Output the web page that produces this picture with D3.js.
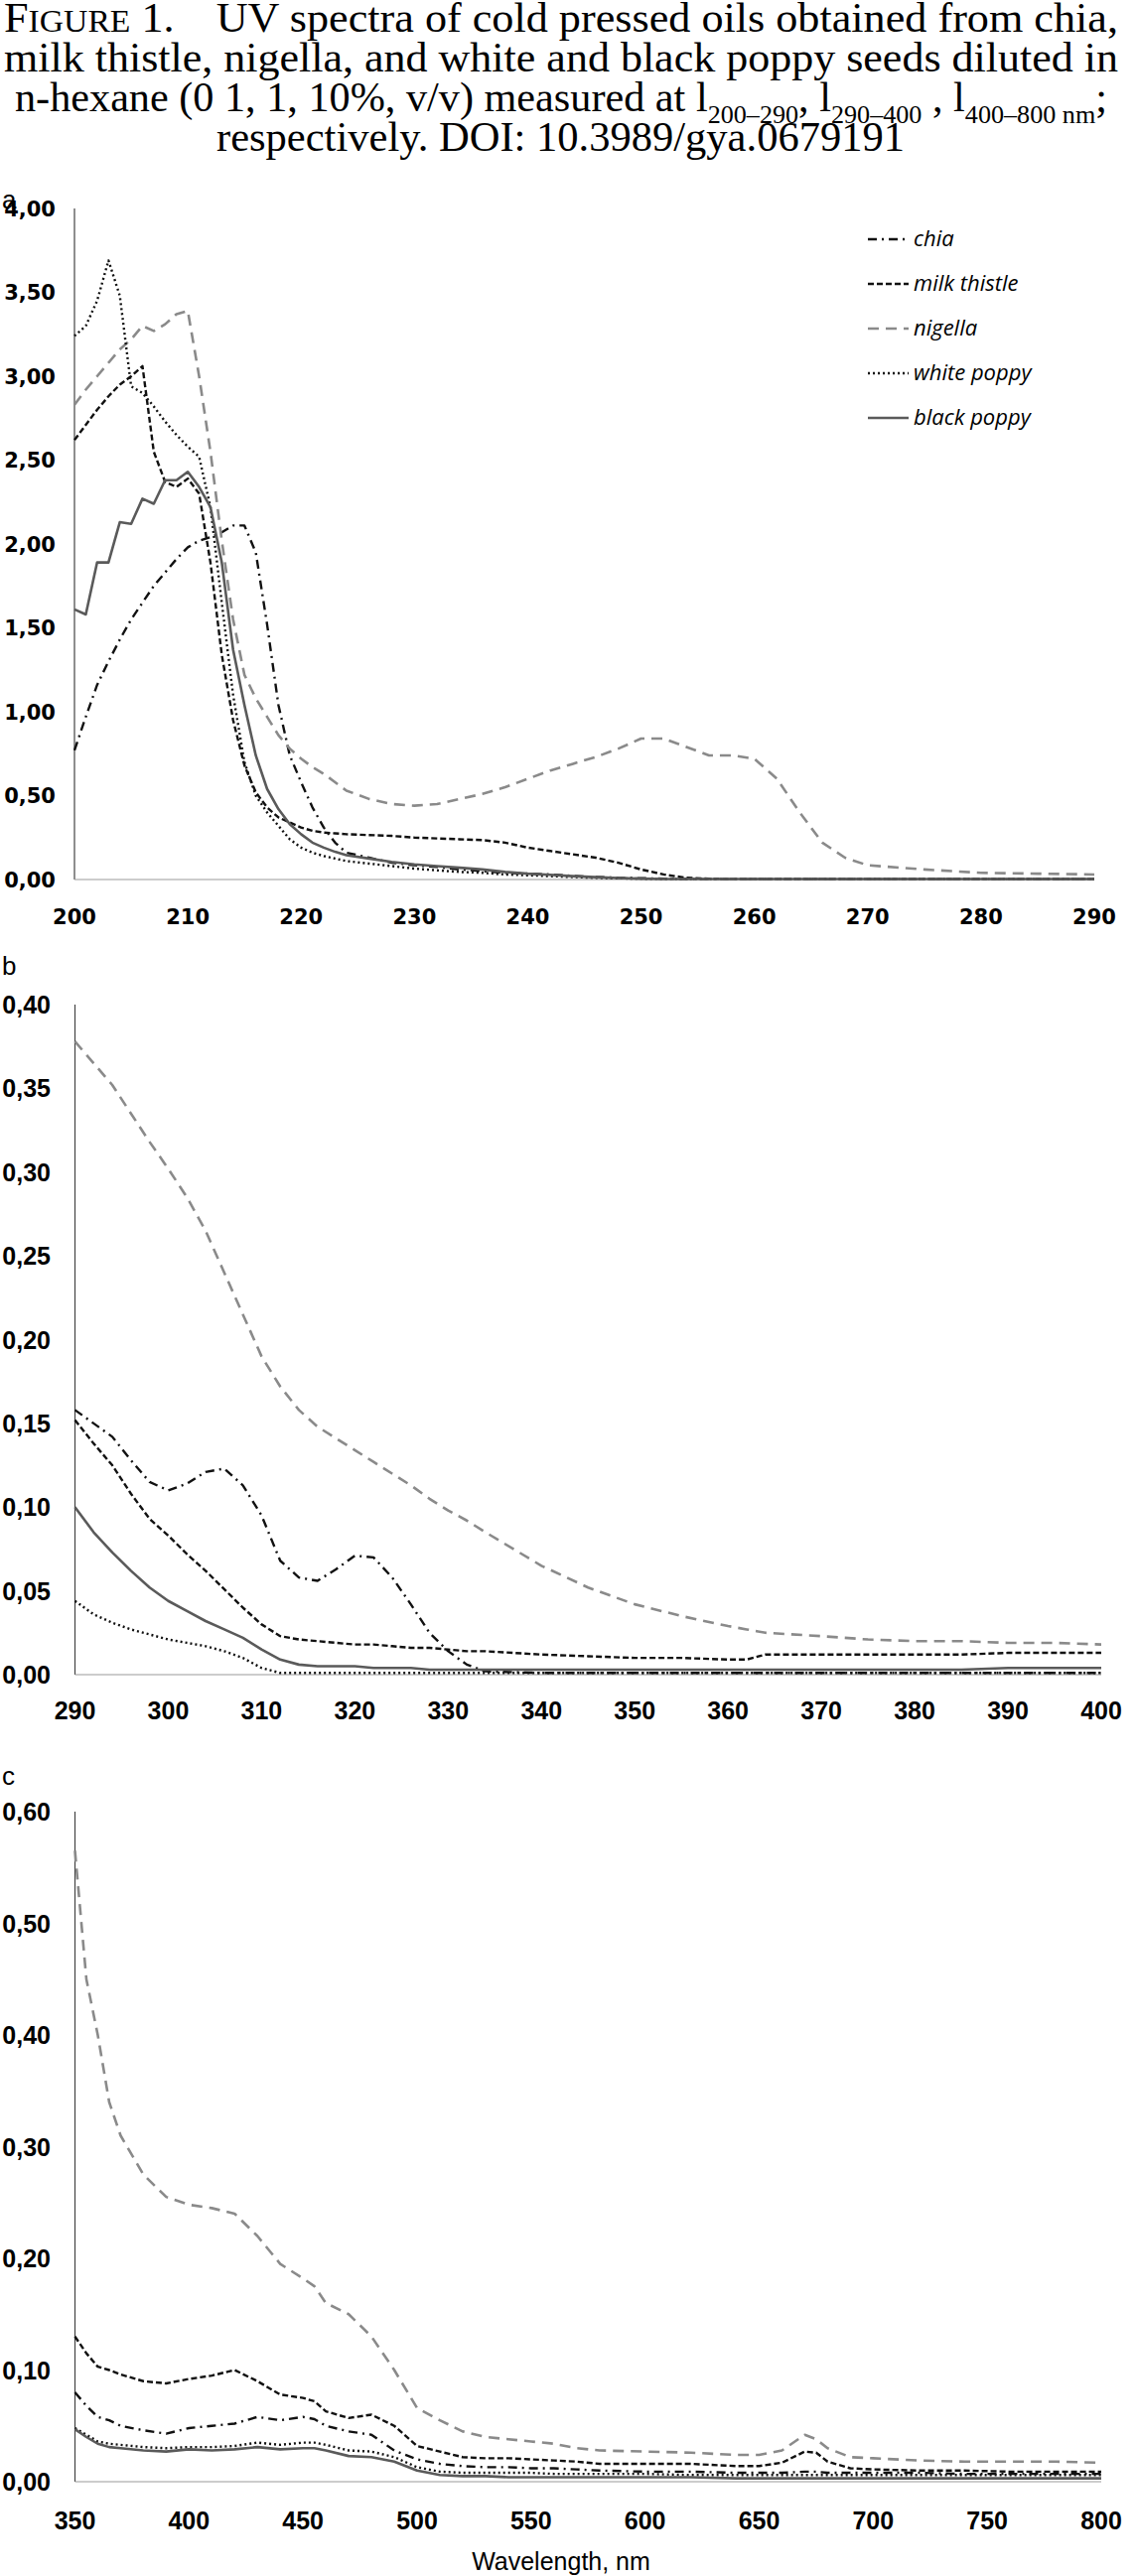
<!DOCTYPE html>
<html><head><meta charset="utf-8">
<script src="https://cdn.jsdelivr.net/npm/d3@7"></script>
<style>body{margin:0;background:#fff}svg{display:block}</style>
</head><body>
<svg id="c" width="1144" height="2595"></svg>
<script>
const seriesNames=["chia","milk thistle","nigella","white poppy","black poppy"];
const waveA=[200,201,202,203,204,205,206,207,208,209,210,211,212,213,214,215,216,217,218,219,220,221,222,223,224,226,228,230,232,234,236,238,240,242,244,246,248,250,252,254,256,258,260,262,264,266,268,270,275,280,285,290];
const chiaA=[0.77,0.97,1.16,1.30,1.43,1.55,1.65,1.75,1.83,1.91,1.98,2.02,2.04,2.07,2.11,2.11,1.95,1.52,1.04,0.74,0.58,0.43,0.31,0.22,0.16,0.13,0.10,0.085,0.075,0.06,0.05,0.04,0.035,0.03,0.022,0.015,0.01,0.008,0.005,0.003,0.002,0.002,0.002,0.002,0.002,0.002,0.002,0.002,0.002,0.002,0.002,0.002];
const milkA=[2.62,2.71,2.80,2.88,2.95,3.0,3.06,2.55,2.37,2.34,2.39,2.30,1.89,1.34,0.95,0.68,0.52,0.43,0.37,0.34,0.31,0.29,0.28,0.275,0.27,0.265,0.26,0.25,0.245,0.24,0.235,0.22,0.19,0.17,0.15,0.13,0.10,0.06,0.03,0.01,0.005,0.003,0.003,0.003,0.003,0.003,0.003,0.003,0.003,0.003,0.003,0.003];
const nigellaA=[2.83,2.92,3.0,3.08,3.16,3.22,3.30,3.27,3.31,3.37,3.39,3.0,2.55,2.02,1.55,1.22,1.08,0.97,0.86,0.78,0.72,0.67,0.63,0.58,0.53,0.48,0.45,0.44,0.45,0.48,0.51,0.55,0.60,0.65,0.69,0.73,0.78,0.84,0.84,0.79,0.74,0.74,0.72,0.60,0.40,0.22,0.13,0.085,0.06,0.04,0.035,0.03];
const whiteA=[3.24,3.30,3.45,3.69,3.48,2.94,2.90,2.82,2.73,2.65,2.58,2.52,2.22,1.65,1.10,0.70,0.50,0.40,0.32,0.24,0.19,0.16,0.14,0.125,0.11,0.095,0.08,0.065,0.055,0.045,0.04,0.03,0.025,0.02,0.015,0.01,0.007,0.005,0.003,0.003,0.003,0.003,0.003,0.003,0.003,0.003,0.003,0.003,0.003,0.003,0.003,0.003];
const blackA=[1.61,1.58,1.89,1.89,2.13,2.12,2.27,2.24,2.38,2.38,2.43,2.34,2.22,1.89,1.37,1.04,0.74,0.54,0.42,0.33,0.27,0.22,0.19,0.165,0.145,0.125,0.105,0.09,0.08,0.07,0.06,0.045,0.035,0.028,0.02,0.014,0.009,0.005,0.003,0.003,0.003,0.003,0.003,0.003,0.003,0.003,0.003,0.003,0.003,0.003,0.003,0.003];

const waveB=[290,292,294,296,298,300,302,304,306,308,310,312,314,316,318,320,322,324,326,328,330,332,334,340,345,350,355,360,362,364,370,375,380,385,390,395,400];
const chiaB=[0.158,0.15,0.142,0.128,0.115,0.11,0.114,0.121,0.123,0.113,0.095,0.068,0.058,0.056,0.063,0.071,0.07,0.058,0.042,0.025,0.014,0.006,0.002,0.001,0.001,0.001,0.001,0.001,0.001,0.001,0.001,0.001,0.001,0.001,0.001,0.001,0.001];
const milkB=[0.152,0.138,0.125,0.108,0.093,0.083,0.072,0.062,0.051,0.04,0.03,0.023,0.021,0.02,0.019,0.018,0.018,0.017,0.016,0.016,0.015,0.014,0.014,0.012,0.011,0.01,0.01,0.009,0.009,0.012,0.012,0.012,0.012,0.012,0.013,0.013,0.013];
const nigellaB=[0.378,0.365,0.352,0.335,0.318,0.302,0.285,0.265,0.24,0.215,0.19,0.172,0.158,0.148,0.141,0.134,0.127,0.12,0.113,0.105,0.098,0.092,0.085,0.065,0.052,0.042,0.035,0.029,0.027,0.025,0.023,0.021,0.02,0.02,0.019,0.019,0.018];
const whiteB=[0.044,0.036,0.031,0.027,0.024,0.021,0.019,0.017,0.014,0.01,0.004,0.001,0.001,0.001,0.001,0.001,0.001,0.001,0.001,0.001,0.001,0.001,0.001,0.001,0.001,0.001,0.001,0.001,0.001,0.001,0.001,0.001,0.001,0.001,0.001,0.001,0.001];
const blackB=[0.1,0.085,0.073,0.062,0.052,0.044,0.038,0.032,0.027,0.022,0.015,0.009,0.006,0.005,0.005,0.005,0.004,0.004,0.004,0.003,0.003,0.003,0.003,0.003,0.003,0.003,0.003,0.003,0.003,0.003,0.003,0.003,0.003,0.003,0.004,0.004,0.004];

const waveC=[350,355,360,365,370,380,390,400,410,420,430,440,450,455,460,470,480,490,500,510,520,530,540,550,560,570,580,600,620,640,650,660,670,675,680,690,700,720,740,760,780,800];
const chiaC=[0.08,0.068,0.058,0.055,0.05,0.046,0.043,0.048,0.05,0.052,0.058,0.055,0.058,0.056,0.05,0.045,0.042,0.028,0.02,0.016,0.014,0.013,0.013,0.012,0.012,0.011,0.01,0.009,0.009,0.008,0.008,0.008,0.009,0.009,0.008,0.008,0.008,0.008,0.007,0.007,0.007,0.007];
const milkC=[0.13,0.115,0.103,0.1,0.096,0.09,0.088,0.092,0.095,0.1,0.09,0.078,0.075,0.072,0.063,0.057,0.06,0.05,0.032,0.027,0.022,0.021,0.021,0.02,0.019,0.018,0.016,0.016,0.016,0.014,0.014,0.017,0.027,0.026,0.018,0.012,0.011,0.01,0.01,0.009,0.009,0.009];
const nigellaC=[0.565,0.45,0.40,0.34,0.31,0.275,0.255,0.248,0.245,0.24,0.22,0.195,0.182,0.175,0.16,0.15,0.13,0.1,0.066,0.055,0.045,0.04,0.038,0.036,0.034,0.03,0.028,0.027,0.026,0.024,0.024,0.028,0.042,0.038,0.03,0.022,0.021,0.019,0.018,0.018,0.018,0.017];
const whiteC=[0.048,0.042,0.036,0.034,0.033,0.031,0.03,0.031,0.031,0.032,0.035,0.033,0.035,0.035,0.033,0.028,0.027,0.022,0.013,0.009,0.008,0.008,0.008,0.008,0.007,0.007,0.007,0.007,0.006,0.006,0.006,0.006,0.006,0.006,0.006,0.006,0.006,0.006,0.006,0.006,0.006,0.006];
const blackC=[0.047,0.04,0.034,0.031,0.03,0.028,0.027,0.029,0.028,0.029,0.031,0.029,0.03,0.03,0.028,0.023,0.022,0.018,0.01,0.006,0.005,0.005,0.004,0.004,0.004,0.004,0.004,0.004,0.004,0.003,0.003,0.003,0.003,0.003,0.003,0.003,0.003,0.003,0.003,0.003,0.003,0.003];

const ticksA=[0,0.5,1,1.5,2,2.5,3,3.5,4];
const xTicksA=[200,210,220,230,240,250,260,270,280,290];
const ticksB=[0,0.05,0.1,0.15,0.2,0.25,0.3,0.35,0.4];
const xTicksB=[290,300,310,320,330,340,350,360,370,380,390,400];
const ticksC=[0,0.1,0.2,0.3,0.4,0.5,0.6];
const xTicksC=[350,400,450,500,550,600,650,700,750,800];

const styles=[
 {stroke:"#111",dash:"9,5,2,5",w:2.4},
 {stroke:"#111",dash:"6,3",w:2.4},
 {stroke:"#8a8a8a",dash:"11,7",w:2.6},
 {stroke:"#111",dash:"2,3",w:2.4},
 {stroke:"#5a5a5a",dash:null,w:2.6}
];
const svg=d3.select("#c");
const fmt=v=>d3.format(".2f")(v).replace(".",",");

// Title
const tf="'Liberation Serif','Times New Roman',serif";
function tline(y,x0,x1,build){
  const t=svg.append("text").attr("x",x0).attr("y",y).attr("font-family",tf).attr("font-size",42)
   .attr("textLength",x1-x0).attr("lengthAdjust","spacingAndGlyphs");
  build(t);
}
tline(32,4,1126,t=>{t.append("tspan").text("F");t.append("tspan").attr("font-size",32).text("IGURE");t.append("tspan").text(" 1.");
  t.append("tspan").attr("dx",40).text("UV spectra of cold pressed oils obtained from chia,");});
tline(72,4,1126,t=>t.text("milk thistle, nigella, and white and black poppy seeds diluted in"));
tline(112,15,1115,t=>{
  t.append("tspan").text("n-hexane (0 1, 1, 10%, v/v) measured at l");
  t.append("tspan").attr("font-size",26).attr("dy",12).text("200–290");
  t.append("tspan").attr("dy",-12).text(", l");
  t.append("tspan").attr("font-size",26).attr("dy",12).text("290–400");
  t.append("tspan").attr("dy",-12).text(" , l");
  t.append("tspan").attr("font-size",26).attr("dy",12).text("400–800 nm");
  t.append("tspan").attr("dy",-12).text(";");
});
tline(152,218,911,t=>t.text("respectively. DOI: 10.3989/gya.0679191"));

function panel(o){
  const x=d3.scaleLinear().domain(o.xd).range(o.xr);
  const y=d3.scaleLinear().domain(o.yd).range(o.yr);
  const g=svg.append("g");
  g.append("line").attr("x1",o.xr[0]).attr("x2",o.xr[0]).attr("y1",o.yr[0]).attr("y2",o.yr[1]).attr("stroke","#444").attr("stroke-width",1.2);
  g.append("line").attr("x1",o.xr[0]).attr("x2",o.xr[1]).attr("y1",o.yr[0]).attr("y2",o.yr[0]).attr("stroke","#999").attr("stroke-width",1.2);
  o.yt.forEach(v=>g.append("text").attr("x",o.ylx).attr("y",y(v)).attr("dy","0.36em").attr("text-anchor","end")
    .attr("font-family",o.font).attr("font-weight","bold").attr("font-size",o.fs).text(fmt(v)));
  o.xt.forEach(v=>g.append("text").attr("x",x(v)).attr("y",o.xly).attr("dy","0.36em").attr("text-anchor","middle")
    .attr("font-family",o.font).attr("font-weight","bold").attr("font-size",o.fs).text(v));
  const line=d3.line().x(d=>x(d[0])).y(d=>y(d[1]));
  o.series.forEach((s,i)=>{
    const st=styles[i];
    g.append("path").datum(o.wave.map((w,j)=>[w,s[j]])).attr("d",line).attr("fill","none")
     .attr("stroke",st.stroke).attr("stroke-width",st.w).attr("stroke-dasharray",st.dash).attr("stroke-linejoin","round");
  });
  g.append("text").attr("x",o.lab[0]).attr("y",o.lab[1]).attr("font-family","'Liberation Sans',Arial,sans-serif").attr("font-size",26).text(o.label);
}
panel({xd:[200,290],xr:[75,1102],yd:[0,4],yr:[886,210],wave:waveA,series:[chiaA,milkA,nigellaA,whiteA,blackA],
  yt:ticksA,xt:xTicksA,ylx:56,xly:923,font:"'DejaVu Sans',sans-serif",fs:21,label:"a",lab:[2,210]});
panel({xd:[290,400],xr:[75.5,1109],yd:[0,0.4],yr:[1687,1012],wave:waveB,series:[chiaB,milkB,nigellaB,whiteB,blackB],
  yt:ticksB,xt:xTicksB,ylx:51,xly:1723,font:"'Liberation Sans Narrow','Liberation Sans',sans-serif",fs:25,label:"b",lab:[2,982]});
panel({xd:[350,800],xr:[75.5,1109],yd:[0,0.6],yr:[2500,1825],wave:waveC,series:[chiaC,milkC,nigellaC,whiteC,blackC],
  yt:ticksC,xt:xTicksC,ylx:51,xly:2539,font:"'Liberation Sans Narrow','Liberation Sans',sans-serif",fs:25,label:"c",lab:[2,1798]});
svg.append("text").attr("x",565).attr("y",2580).attr("dy","0.36em").attr("text-anchor","middle")
  .attr("font-family","'Liberation Sans Narrow','Liberation Sans',sans-serif").attr("font-size",25).text("Wavelength, nm");

// Legend
const leg=svg.append("g");
seriesNames.forEach((n,i)=>{
  const yy=241+i*45, st=styles[i];
  leg.append("line").attr("x1",874).attr("x2",915).attr("y1",yy).attr("y2",yy).attr("stroke",st.stroke)
    .attr("stroke-width",st.w).attr("stroke-dasharray",st.dash);
  leg.append("text").attr("x",920).attr("y",yy).attr("dy","0.32em").attr("font-family","'Open Sans',sans-serif")
    .attr("font-style","italic").attr("font-size",22).text(n);
});
</script>
</body></html>
